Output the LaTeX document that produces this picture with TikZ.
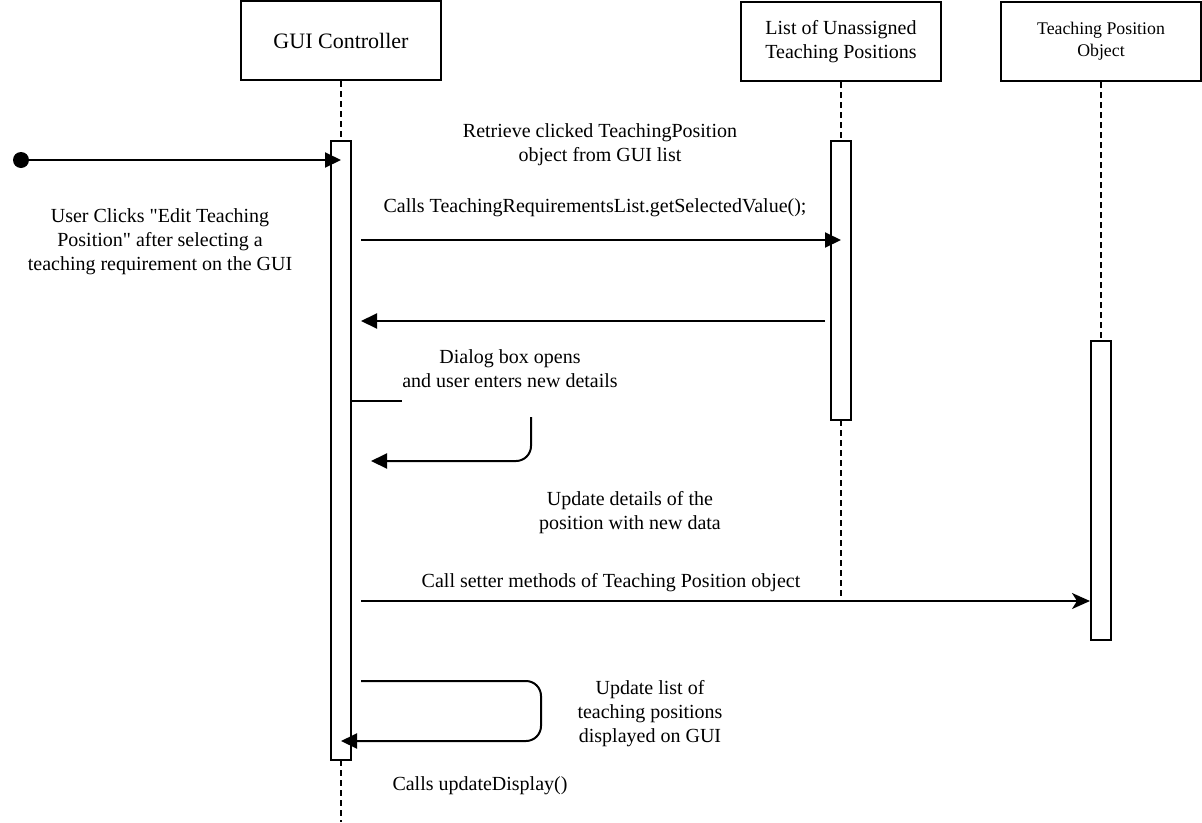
\documentclass[tikz,border=0pt]{standalone}
\usepackage{fontspec}
\setmainfont{Liberation Serif}[Ligatures=TeXOff]
\usetikzlibrary{arrows.meta}
\begin{document}
\begin{tikzpicture}[x=1pt,y=-1pt,
    object/.style ={draw, line width=2pt, minimum width=200pt, minimum height=79pt, align=center},
    activation/.style ={draw, fill=white, line width=2pt, minimum width=20pt, inner sep=0pt},
    lifeline/.style ={line width=2pt, dash pattern=on 6pt off 4pt},
    message/.style ={line width=2pt, -{Triangle[length=16pt,width=15pt]}},
    note/.style ={align=center, font=\fontsize{20}{24}\selectfont}]
   \useasboundingbox (0,0) rectangle (1202,822);

   \node[object, font=\fontsize{22}{26}\selectfont] (gui) at (341,40.5) {GUI Controller};
   \node[object, font=\fontsize{20}{24}\selectfont] (list) at (841,41.5) {List of Unassigned\\Teaching Positions};
   \node[object, font=\fontsize{17.8}{22}\selectfont] (tpo) at (1101,41.5) {Teaching Position\\Object};

   \coordinate (guiend) at (341,822);
   \coordinate (listend) at (841,601);
   \draw[lifeline] (gui.south) -- (341,141);
   \draw[lifeline] (list.south) -- (841,141);
   \draw[lifeline] (tpo.south) -- (1101,341);
   \draw[lifeline] (841,420) -- (listend);
   \draw[lifeline] (341,760) -- (guiend);

   \node[activation, minimum height=619pt] (guiact) at (341,450.5) {};
   \node[activation, minimum height=279pt] (listact) at (841,280.5) {};
   \node[activation, minimum height=299pt] (tpoact) at (1101,490.5) {};

   % start of the interaction
   \node[circle, fill, inner sep=0pt, minimum size=16pt] (start) at (21,160) {};
   \coordinate (in) at (341,160);
   \draw[message] (start) -- (in);
   \node[note] (click) at (160,242) {User Clicks "Edit Teaching\\Position" after selecting a\\teaching requirement on the GUI};

   % calls to the list
   \coordinate (c1) at (361,240);
   \coordinate (c1end) at (841,240);
   \draw[message] (c1) -- (c1end);
   \node[note] (retrieve) at (600,145) {Retrieve clicked TeachingPosition\\object from GUI list};
   \node[note] (getsel) at (595,208) {Calls TeachingRequirementsList.getSelectedValue();};
   \coordinate (r1) at (825,321);
   \coordinate (r1end) at (361,321);
   \draw[message] (r1) -- (r1end);

   % dialog box
   \node[note] (dialog) at (510,369) {Dialog box opens\\and user enters new details};
   \coordinate (d1) at (402,401);
   \draw[line width=2pt] (guiact.east |- d1) -- (d1);
   \coordinate (d2) at (531,417);
   \coordinate (d2end) at (371,461);
   \draw[message, rounded corners=15pt] (d2) |- (d2end);

   % setter call
   \node[note] (details) at (630,513) {Update details of the\\position with new data};
   \node[note] (setter) at (611,583) {Call setter methods of Teaching Position object};
   \coordinate (s1) at (361,601);
   \draw[line width=2pt, -{Stealth[length=18pt,width=16pt,inset=5pt]}] (s1) -- (tpoact.west |- s1);

   % update display
   \coordinate (u1) at (361,681);
   \coordinate (u1end) at (341,741);
   \draw[message, rounded corners=15pt] (u1) -- (541,681) -- (541,741) -- (u1end);
   \node[note] (updlist) at (650,714) {Update list of\\teaching positions\\displayed on GUI};
   \node[note] (upd) at (480,786) {Calls updateDisplay()};
 \end{tikzpicture}
\end{document}
